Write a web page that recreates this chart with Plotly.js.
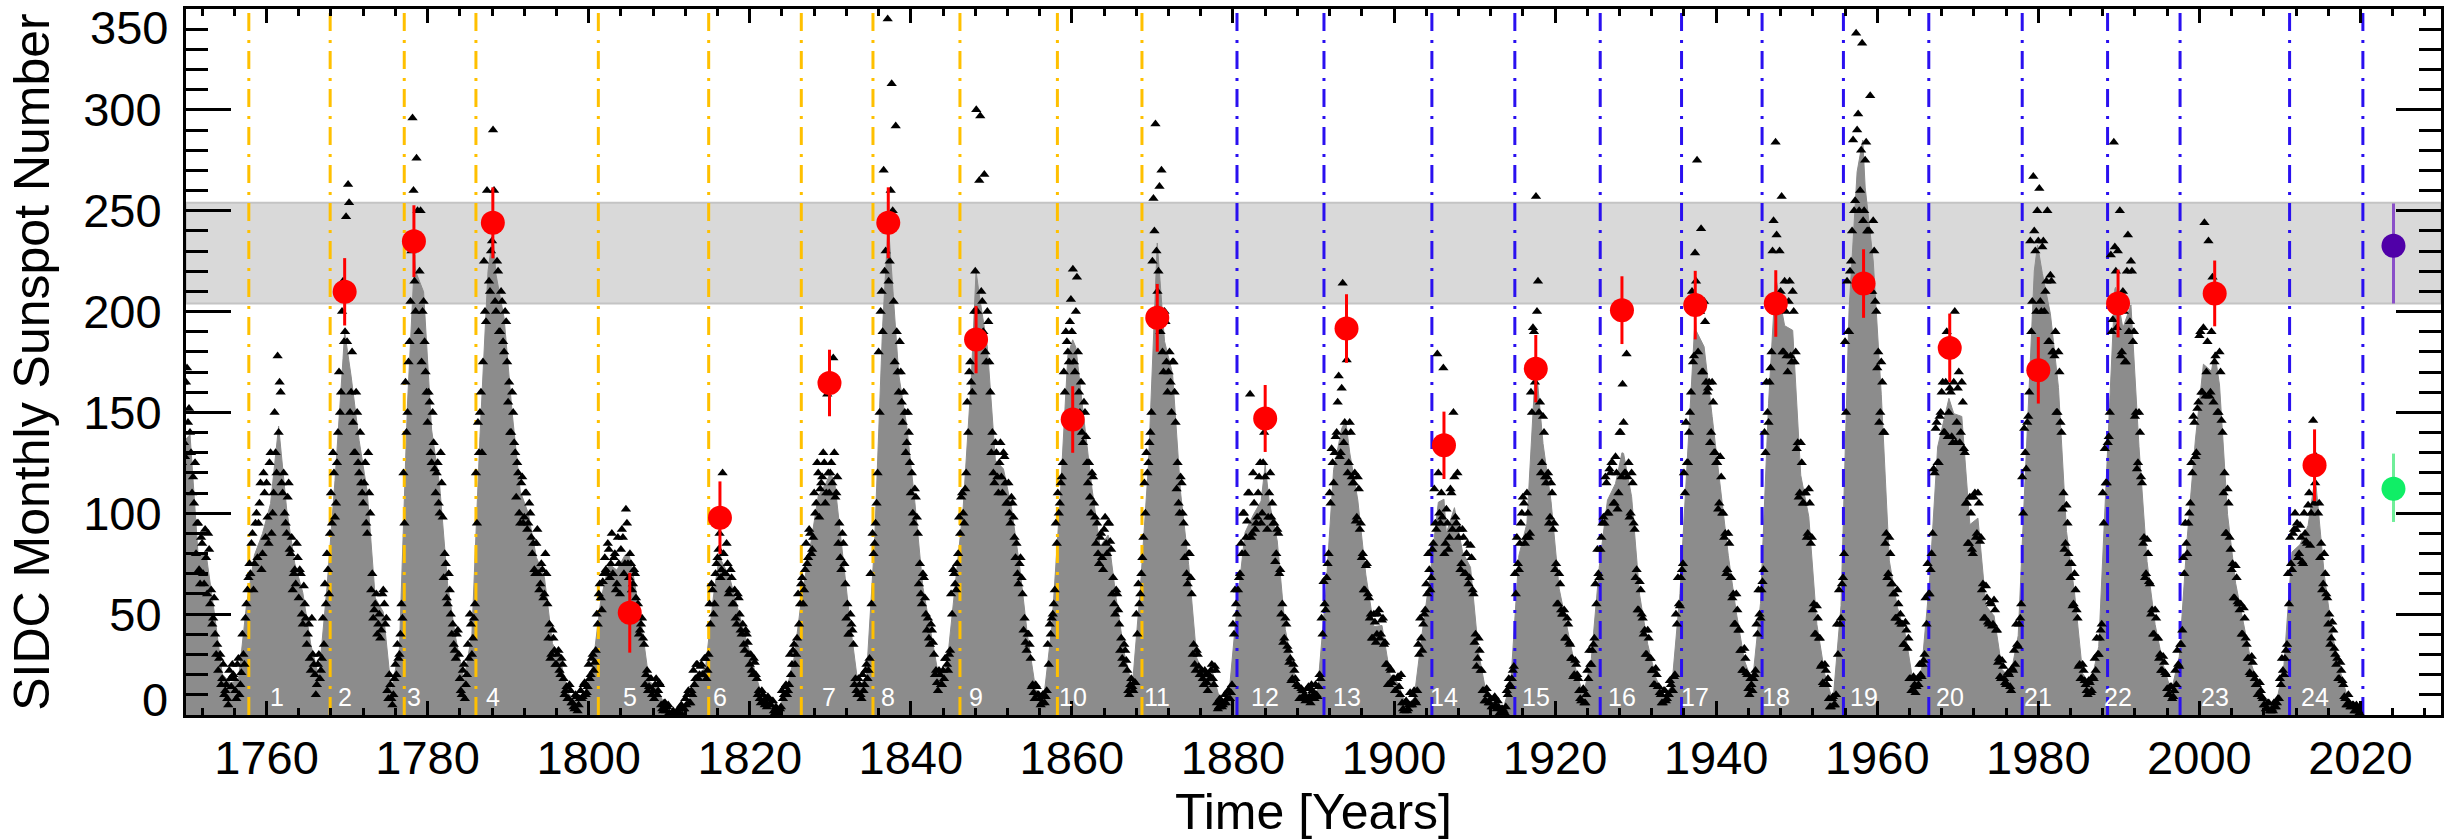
<!DOCTYPE html>
<html><head><meta charset="utf-8">
<script src="https://cdn.plot.ly/plotly-3.0.1.min.js"></script>
<style>html,body{margin:0;padding:0;background:#fff}#chart{width:2453px;height:840px}</style>
</head><body><div id="chart"></div>
<script>
// ---- axis ranges and tick labels ----
const xRange = [1750, 2030];
const yRange = [0, 350];
const yTickVals = [50, 100, 150, 200, 250, 300];
const yEndLabels = ['0', '350'];

// ---- smoothed sunspot number (one value per year, plotted at mid-year) ----
const yearlyStart = 1749;
const yearlySmoothed = [
134.7,139.0,79.5,79.7,51.2,20.3,16.0,17.0,54.0,79.3,
90.0,104.8,143.2,102.0,75.2,60.7,34.8,19.0,63.0,116.3,
176.8,168.0,136.0,110.8,58.0,51.0,11.7,33.0,154.2,220.0,
209.8,141.3,113.5,64.2,38.0,17.0,40.2,138.2,220.0,218.2,
196.8,149.8,111.0,100.0,78.2,68.3,35.5,26.7,10.7,6.8,
11.3,24.2,56.7,75.0,71.8,79.2,70.3,46.8,16.8,13.5,
4.2,0.0,2.3,8.3,20.3,23.2,59.0,76.3,68.3,52.9,
38.5,24.2,9.2,6.3,2.2,11.4,28.2,59.9,83.0,108.5,
115.2,117.4,80.8,44.3,13.4,19.5,85.8,192.7,227.3,168.7,
143.0,105.5,63.3,40.3,18.1,25.1,65.8,102.7,166.3,208.3,
182.5,126.3,122.0,102.7,74.1,39.0,12.7,8.2,43.4,104.4,
178.3,182.2,146.6,112.1,83.5,89.2,57.8,30.7,13.9,62.8,
123.6,232.0,185.3,169.2,110.1,74.5,28.3,18.9,20.7,5.7,
10.0,53.7,90.5,99.0,106.1,105.8,86.3,42.4,21.8,11.2,
10.4,11.8,59.5,121.7,142.0,130.0,106.6,69.4,43.8,44.4,
20.2,15.7,4.6,8.5,40.8,70.1,105.5,90.1,102.8,80.9,
73.2,30.9,9.5,6.0,2.4,16.1,79.0,95.0,173.6,134.6,
105.7,62.7,43.5,23.7,9.7,27.9,74.0,106.5,114.7,129.7,
108.2,59.4,35.1,18.6,9.2,14.6,60.2,132.8,190.6,182.6,
148.0,113.0,79.2,50.8,27.1,16.1,55.3,154.3,214.7,193.0,
190.7,118.9,98.3,45.0,20.1,6.6,54.2,200.7,269.3,261.7,
225.1,159.0,76.4,53.4,39.9,15.0,22.0,66.8,132.9,150.0,
149.4,148.0,94.4,97.6,54.1,49.2,22.5,18.4,39.3,131.0,
220.1,218.9,198.9,162.4,91.0,60.5,20.6,14.8,33.9,123.0,
211.1,191.8,203.3,133.0,76.1,44.9,25.1,11.6,28.9,88.3,
136.3,173.9,170.4,163.6,99.3,65.3,45.8,24.7,12.6,4.2,
4.8,24.9,80.8,84.5,94.0,113.3,69.8,39.8,21.7,7.0,3.6
];
// smoothed cycle maxima
const peakYears  = [1769.7,1778.4,1788.1,1805.0,1816.3,1829.9,1837.2,1848.1,1860.1,1870.6,1884.0,1894.0,1906.2,1917.6,1928.3,1937.4,1947.4,1958.2,1968.9,1979.9,1989.6,2001.9,2014.3];
const peakValues = [190,228,238,80,81,119,244,220,186,234,124,146,107,175,130,198,218,285,157,233,212,180,116];

// ---- monthly sunspot numbers, set A (4 per year, at Y+0.125, +0.375, +0.625, +0.875) ----
const monthlyStart = 1749;
const monthlySSN = [
150,118,165,128, 172,152,130,118, 125,95,72,88, 70,92,60,82, 62,48,40,35,      //1749-1753
28,15,25,12, 8,22,14,20, 12,25,10,21, 30,48,62,75, 85,62,95,78,                //1754-1758
105,72,120,88, 98,125,90,110, 130,178,165,115, 120,95,108,82, 88,70,65,78,     //1759-1763
72,50,64,48, 40,28,48,25, 10,25,18,28, 35,55,72,90, 95,120,105,140,            //1764-1768
150,200,185,247, 263,150,180,130, 160,125,140,110, 115,95,130,100, 70,52,60,45, //1769-1773
38,60,55,48, 8,15,5,18, 20,28,40,48, 95,140,175,205, 296,215,276,190,          //1774-1778
250,200,185,160, 160,130,150,122, 120,105,130,98, 80,58,70,50, 45,32,40,30,     //1779-1783
12,22,8,20, 28,45,38,55, 95,130,160,175, 200,260,215,230, 290,205,225,190,      //1784-1788
210,185,200,175, 165,140,150,130, 125,100,115,95, 110,92,105,88, 85,70,92,62,   //1789-1793
75,58,80,55, 45,30,38,25, 30,22,28,18, 12,8,15,6, 4,10,2,8,                     //1794-1798
8,15,10,14, 18,28,22,32, 45,65,52,70, 72,85,68,90, 78,62,88,60,                 //1799-1803
92,70,102,75, 80,62,72,58, 55,42,48,35, 20,12,18,10, 8,18,12,15,                //1804-1808
3,6,2,5, 0,0,0,0, 1,4,0,3, 5,12,6,10, 15,25,18,24,                              //1809-1813
20,28,18,30, 45,62,55,75, 82,68,120,70, 85,60,72,55, 62,45,58,42,               //1814-1818
45,32,40,30, 30,20,26,18, 12,6,10,5, 4,8,5,7, 1,3,0,4,                          //1819-1823
8,14,10,15, 20,32,25,38, 45,65,55,72, 75,92,80,88, 100,125,98,115,              //1824-1828
130,105,159,110, 125,177,108,118, 95,72,85,65, 55,40,45,35, 18,10,15,8,         //1829-1833
12,22,18,28, 55,80,95,120, 150,210,270,230, 345,225,313,205, 292,170,185,155,   //1834-1838
160,130,150,125, 120,95,108,90, 75,55,68,50, 48,35,42,30, 22,12,20,15,          //1839-1843
18,28,22,32, 50,70,62,80, 90,110,95,120, 140,175,160,200, 300,185,297,205,      //1844-1848
268,175,195,160, 140,115,130,110, 135,110,128,105, 115,95,105,88, 85,65,78,60,  //1849-1853
48,32,40,28, 15,8,14,10, 5,10,6,12, 25,40,50,62, 85,100,115,125,                //1854-1858
160,185,175,206, 221,170,217,160, 165,135,150,125, 125,100,118,98, 95,75,90,72, //1859-1863
98,80,95,82, 68,50,60,45, 38,25,32,22, 10,18,12,16, 40,55,70,88,                //1864-1868
100,120,135,150, 256,293,210,262, 270,170,195,160, 180,150,175,145, 125,100,115,95, //1869-1873
85,65,80,60, 35,22,30,20, 22,15,20,12, 18,25,15,22, 3,8,4,6,                    //1874-1878
6,12,8,15, 40,55,62,70, 80,100,88,110, 159,90,105,95, 110,125,100,140,          //1879-1883
145,98,120,105, 95,80,90,72, 55,38,45,32, 28,18,22,15, 14,8,12,10,              //1884-1888
8,14,6,12, 8,10,14,18, 40,55,68,80, 105,125,130,140, 168,130,214,145,           //1889-1893
176,125,140,115, 120,98,112,95, 80,62,75,58, 50,38,46,40, 52,40,48,36,          //1894-1898
25,15,22,18, 12,18,14,20, 3,6,2,5, 5,10,7,12, 30,38,45,52,                      //1899-1903
60,72,68,85, 95,179,100,110, 172,85,95,88, 110,150,98,120, 92,75,88,70,         //1904-1908
85,68,78,60, 40,28,32,22, 12,7,10,6, 4,8,5,7, 1,3,2,4,                          //1909-1913
10,15,18,24, 60,75,85,100, 105,88,100,90, 150,190,257,215, 155,125,140,115,     //1914-1918
120,98,110,95, 75,55,65,50, 52,38,45,35, 28,20,25,18, 8,12,6,10,                //1919-1923
18,25,32,38, 55,70,82,95, 95,115,100,120, 125,105,120,110, 140,164,120,179,     //1924-1928
125,100,115,92, 72,52,62,48, 42,30,38,28, 22,15,20,14, 10,6,12,8,               //1929-1933
10,15,12,20, 45,55,68,75, 110,125,140,160, 175,229,275,200, 241,170,195,160,    //1934-1938
165,140,155,130, 125,105,118,100, 90,72,85,68, 60,45,52,42, 32,22,28,20,        //1939-1943
10,15,18,22, 40,50,62,72, 130,150,165,180, 245,284,205,230, 257,180,200,170,    //1944-1948
215,175,200,180, 135,110,125,105, 110,90,105,88, 55,40,48,38, 25,15,22,18,      //1949-1953
4,8,5,10, 30,45,65,80, 150,190,220,240, 250,338,298,260, 333,250,284,240,       //1954-1958
307,210,230,200, 180,150,165,140, 90,70,80,65, 60,48,55,50, 45,35,42,38,        //1959-1963
18,12,15,14, 15,20,25,30, 45,60,72,90, 120,145,125,150, 165,140,190,150,        //1964-1968
160,135,200,145, 170,140,155,130, 105,85,100,80, 110,90,105,88, 65,48,58,45,    //1969-1973
55,45,52,42, 28,18,24,16, 15,20,12,22, 25,35,45,55, 100,130,145,160,            //1974-1978
190,267,230,250, 261,200,235,210, 250,185,215,180, 190,150,170,140, 110,85,95,75, //1979-1983
75,55,62,48, 25,18,22,15, 10,16,12,18, 22,30,38,45, 95,115,135,150,             //1984-1988
190,284,220,230, 250,180,200,175, 238,195,220,190, 150,125,140,115, 88,70,80,65, //1989-1993
52,40,48,38, 30,22,26,20, 10,14,8,12, 15,25,35,42, 70,85,95,105,                //1994-1998
120,145,130,155, 190,160,244,170, 235,160,217,175, 207,150,170,140, 120,90,105,82, //1999-2003
75,58,68,55, 55,40,48,35, 28,20,26,18, 15,10,12,8, 5,3,6,2,                     //2004-2008
2,4,6,8, 15,22,28,35, 55,75,90,100, 95,80,88,75, 90,85,110,100,                 //2009-2013
146,115,125,105, 85,65,70,58, 50,38,42,30, 28,18,22,15, 8,5,6,4, 5,2,3,1        //2014-2019
];
// ---- monthly sunspot numbers, set B (4 per year, at Y+0, +0.25, +0.5, +0.75) ----
const monthlySSNb = [
140,160,125,135, 165,145,140,110, 105,80,95,65, 85,65,78,90, 55,45,58,30,       //1749-1753
22,30,18,10, 15,5,18,25, 18,8,28,15, 40,25,55,68, 70,90,75,100,                 //1754-1758
95,115,80,110, 115,85,130,100, 150,120,140,160, 110,100,90,115, 80,62,72,85,    //1759-1763
58,70,45,55, 35,45,22,30, 20,15,30,22, 48,65,80,60, 110,130,98,125,             //1764-1768
170,160,215,190, 185,254,160,145, 130,150,120,115, 105,125,90,110, 62,48,55,40, //1769-1773
50,42,62,45, 12,20,8,10, 25,35,30,55, 120,165,150,185, 230,260,200,250,         //1774-1778
220,175,205,170, 145,155,125,135, 110,125,100,115, 68,75,55,62, 40,35,28,42,    //1779-1783
18,10,25,15, 35,50,30,48, 120,145,150,130, 225,195,245,210, 235,260,200,220,    //1784-1788
190,205,180,195, 155,140,160,135, 108,120,95,118, 98,110,95,100, 80,72,85,70,   //1789-1793
65,72,60,70, 38,28,42,32, 25,32,20,25, 10,14,8,12, 6,3,9,5,                     //1794-1798
12,9,16,11, 25,20,30,26, 50,60,58,66, 78,70,82,75, 70,80,65,75,                 //1799-1803
82,88,75,95, 68,75,65,70, 50,40,45,38, 15,22,14,18, 12,15,10,16,                //1804-1808
5,2,6,4, 1,0,2,0, 2,1,5,3, 8,10,6,12, 22,18,25,20,                              //1809-1813
25,20,28,22, 55,65,50,70, 78,90,72,80, 70,75,62,68, 55,48,60,50,                //1814-1818
40,35,42,36, 25,22,28,20, 10,8,12,7, 6,9,5,7, 2,4,1,3,                          //1819-1823
12,10,15,12, 30,25,35,30, 60,55,68,62, 85,78,90,82, 110,105,120,112,            //1824-1828
118,125,110,120, 120,115,130,110, 85,78,90,75, 48,40,50,42, 15,12,18,10,        //1829-1833
20,15,25,22, 70,90,85,105, 180,200,190,220, 240,215,260,250, 175,190,160,170,   //1834-1838
145,150,135,140, 110,100,112,98, 65,60,70,58, 42,38,45,36, 20,16,22,15,         //1839-1843
22,28,25,30, 60,72,65,75, 98,108,100,112, 155,170,165,185, 220,200,265,210,     //1844-1848
190,180,200,175, 130,120,135,118, 125,118,130,115, 105,100,108,98, 78,70,75,68, //1849-1853
42,36,40,35, 14,11,15,10, 8,6,10,9, 35,45,48,55, 95,110,105,118,                //1854-1858
170,190,180,195, 190,175,200,180, 150,140,155,138, 115,108,120,105, 85,80,88,78, //1859-1863
92,85,95,86, 60,55,62,52, 32,28,35,27, 12,15,14,16, 50,65,60,78,                //1864-1868
115,130,125,140, 225,240,230,220, 190,180,200,175, 170,165,175,160, 112,105,118,100, //1869-1873
78,70,80,68, 30,25,32,24, 20,18,22,16, 20,22,18,24, 6,4,7,5,                    //1874-1878
10,8,12,11, 45,62,50,68, 85,100,80,96, 110,88,120,92, 98,118,95,125,            //1879-1883
118,92,110,98, 95,76,92,70, 50,36,48,34, 26,17,25,18, 15,8,13,9,                //1884-1888
7,13,9,15, 10,15,9,20, 48,66,52,75, 110,132,115,138, 155,128,162,135,           //1889-1893
140,120,145,118, 115,96,118,92, 78,62,74,60, 48,38,50,36, 50,38,47,35,          //1894-1898
25,15,23,16, 18,12,19,10, 6,2,7,3, 11,5,12,6, 35,48,32,50,                      //1899-1903
65,80,62,82, 112,92,120,95, 98,80,102,82, 112,92,118,95, 88,72,92,70,           //1904-1908
80,65,84,62, 36,24,38,22, 12,7,13,6, 8,4,9,3, 4,1,3,1,                          //1909-1913
12,18,14,22, 70,88,72,95, 108,85,110,88, 160,192,165,200, 150,120,148,118,      //1914-1918
118,95,115,92, 72,55,70,52, 50,38,48,36, 28,19,27,20, 12,7,13,6,                //1919-1923
22,32,25,35, 65,82,68,88, 98,118,100,122, 125,105,128,102, 140,118,145,120,     //1924-1928
118,98,120,95, 68,52,66,50, 40,30,42,28, 22,15,23,14, 11,6,12,7,                //1929-1933
10,17,12,19, 50,68,54,72, 120,145,125,150, 210,178,215,180, 200,170,205,165,    //1934-1938
162,135,165,130, 125,102,128,100, 88,70,90,68, 58,45,60,42, 32,22,33,21,        //1939-1943
13,18,12,20, 45,62,48,66, 140,165,145,172, 230,200,238,205, 210,180,215,178,    //1944-1948
205,178,210,175, 132,108,135,105, 110,88,112,85, 52,40,54,38, 24,16,25,15,      //1949-1953
8,4,9,5, 45,62,48,68, 185,215,190,225, 285,255,290,250, 280,245,275,240,        //1954-1958
240,210,245,205, 172,145,175,140, 85,68,88,65, 60,48,62,46, 45,35,46,33,        //1959-1963
18,12,19,11, 18,25,19,27, 58,75,60,80, 122,142,125,148, 160,140,165,138,        //1964-1968
162,138,165,135, 162,135,165,132, 105,85,108,82, 108,88,110,86, 62,48,64,46,    //1969-1973
56,44,57,42, 26,19,27,18, 15,21,14,23, 32,45,34,48, 118,142,122,148,            //1974-1978
235,205,240,200, 235,205,232,200, 215,185,218,180, 178,150,180,145, 102,82,104,80, //1979-1983
68,54,70,52, 24,18,25,17, 12,17,11,19, 28,38,30,42, 110,132,115,138,            //1984-1988
228,196,232,192, 208,178,210,175, 220,190,225,185, 148,122,150,118, 85,68,87,66, //1989-1993
50,40,52,38, 28,22,29,21, 13,10,14,9, 22,32,24,35, 78,95,80,100,                //1994-1998
125,148,128,152, 188,160,192,158, 185,158,190,155, 178,150,180,146, 110,90,112,88, //1999-2003
72,58,74,56, 52,40,53,38, 28,21,29,20, 15,10,16,9, 5,3,6,2,                     //2004-2008
3,6,4,8, 18,28,20,32, 70,88,72,92, 92,78,94,76, 100,86,104,84,                  //2009-2013
125,105,128,100, 78,62,80,60, 45,35,46,33, 25,18,26,17, 9,5,10,4, 5,2,5,2       //2014-2019
];

// ---- cycle start markers ----
const orangeCycleStarts = [1757.8,1767.9,1777.1,1786.0,1801.2,1814.9,1826.4,1835.3,1846.1,1858.2,1868.7];
const blueCycleStarts   = [1880.5,1891.3,1904.7,1915.0,1925.6,1935.7,1945.7,1955.8,1966.4,1978.0,1988.6,1997.6,2011.2,2020.3];

// ---- predicted cycle maxima (cycles 2-24) ----
const predYears  = [1769.7,1778.3,1788.1,1805.1,1816.3,1829.9,1837.2,1848.1,1860.1,1870.6,1884.0,1894.1,1906.2,1917.6,1928.3,1937.4,1947.4,1958.3,1969.0,1980.0,1989.9,2001.9,2014.3];
const predValues = [209.8,234.9,244.0,50.7,97.8,164.6,244.0,186.1,146.5,196.9,147.0,191.6,133.7,171.7,200.7,203.2,204.0,213.9,182.0,170.9,204.0,209.0,123.8];
const predErrors = [16.7,17.8,17.6,19.8,18.0,16.5,17.6,16.7,16.5,16.8,16.6,17.0,16.7,16.7,16.8,17.0,16.5,17.0,17.0,16.5,16.8,16.3,17.8];

// ---- cycle 25 predictions ----
const c25Year = [2024.1];
const c25PurpleValue = [232.6], c25PurpleErrPlus = [21.0], c25PurpleErrMinus = [28.6];
const c25GreenValue = [112.2],  c25GreenErrPlus = [17.4],  c25GreenErrMinus = [16.5];

// ---- cycle number labels ----
const cycleLabels = ['1','2','3','4','5','6','7','8','9','10','11','12','13','14','15','16','17','18','19','20','21','22','23','24'];
const cycleLabelYears = [1761.3].concat(predYears);

// ---- highlighted band ----
const bandRange = [204, 254];

// ================= build traces =================
const FONT = 'Liberation Sans, Arial, Helvetica, sans-serif';
const smooth = yearlySmoothed.map((v,i)=>[yearlyStart+i+0.5, v])
  .concat(peakYears.map((t,i)=>[t, peakValues[i]]))
  .sort((a,b)=>a[0]-b[0]);

const traces = [];
traces.push({
  x: smooth.map(p=>p[0]), y: smooth.map(p=>p[1]),
  type:'scatter', mode:'lines', fill:'tozeroy',
  fillcolor:'#8c8c8c', line:{color:'#8c8c8c', width:1}, hoverinfo:'skip'
});
function vlines(years){
  const x=[], y=[];
  years.forEach(t=>{ x.push(t,t,null); y.push(yRange[0],yRange[1],null); });
  return {x,y};
}
const dashPat = '18px,8px,3px,9px';
const vo = vlines(orangeCycleStarts), vb = vlines(blueCycleStarts);
traces.push({x:vo.x, y:vo.y, type:'scatter', mode:'lines', line:{color:'#ffc000', width:3, dash:dashPat}, hoverinfo:'skip'});
traces.push({x:vb.x, y:vb.y, type:'scatter', mode:'lines', line:{color:'#2a10f0', width:3, dash:dashPat}, hoverinfo:'skip'});

const mX = monthlySSN.map((v,i)=>monthlyStart + (i+0.5)/4)
  .concat(monthlySSNb.map((v,i)=>monthlyStart + i/4));
const mY = monthlySSN.concat(monthlySSNb);
traces.push({
  x: mX, y: mY, type:'scatter', mode:'markers',
  marker:{symbol:'triangle-up', size:9, color:'#000000', line:{width:0}}, hoverinfo:'skip'
});
traces.push({
  x: predYears, y: predValues, type:'scatter', mode:'markers',
  marker:{size:24, color:'#ff0000', line:{width:0}},
  error_y:{type:'data', array:predErrors, visible:true, color:'#ff0000', thickness:3, width:0}
});
traces.push({
  x: c25Year, y: c25PurpleValue, type:'scatter', mode:'markers',
  marker:{size:24, color:'#5000a8', line:{width:0}},
  error_y:{type:'data', symmetric:false, array:c25PurpleErrPlus, arrayminus:c25PurpleErrMinus, color:'#8a50c8', thickness:3, width:0}
});
traces.push({
  x: c25Year, y: c25GreenValue, type:'scatter', mode:'markers',
  marker:{size:24, color:'#10ee66', line:{width:0}},
  error_y:{type:'data', symmetric:false, array:c25GreenErrPlus, arrayminus:c25GreenErrMinus, color:'#70ee99', thickness:3, width:0}
});

const annotations = cycleLabels.map((s,i)=>({
  x: cycleLabelYears[i], xref:'x', y:0, yref:'paper', yanchor:'middle', yshift:18,
  text:s, showarrow:false, font:{size:25, color:'#ffffff', family:FONT}
}));
// end labels of the y axis (drawn inside the axis span, as in the original)
annotations.push({x:0, xref:'paper', xanchor:'right', xshift:-16, y:0, yref:'paper', yanchor:'middle', yshift:16,
  text:yEndLabels[0], showarrow:false, font:{size:47, color:'#000', family:FONT}});
annotations.push({x:0, xref:'paper', xanchor:'right', xshift:-16, y:1, yref:'paper', yanchor:'middle', yshift:-18,
  text:yEndLabels[1], showarrow:false, font:{size:47, color:'#000', family:FONT}});

const axisCommon = {
  showline:true, linewidth:3, linecolor:'#000', mirror:'allticks',
  ticks:'inside', tickcolor:'#000', tickwidth:3,
  showgrid:false, zeroline:false, tickfont:{size:47, family:FONT, color:'#000'}
};
const layout = {
  width:2453, height:840,
  margin:{l:186, r:12, t:9, b:125},
  paper_bgcolor:'#ffffff', plot_bgcolor:'#ffffff',
  showlegend:false,
  font:{family:FONT, color:'#000'},
  xaxis: Object.assign({}, axisCommon, {
    range:xRange, tick0:1760, dtick:20, ticklen:14,
    minor:{ticks:'inside', ticklen:7, tickwidth:3, tickcolor:'#000', dtick:4, tick0:1760, showgrid:false},
    ticklabelstandoff:0,
    title:{text:'Time [Years]', font:{size:50, family:FONT, color:'#000'}, standoff:14}
  }),
  yaxis: Object.assign({}, axisCommon, {
    range:yRange, tickmode:'array', tickvals:yTickVals, ticklen:45,
    minor:{ticks:'inside', ticklen:22, tickwidth:3, tickcolor:'#000', dtick:10, tick0:0, showgrid:false},
    ticklabelstandoff:12,
    title:{text:'SIDC Monthly Sunspot Number', font:{size:50, family:FONT, color:'#000'}, standoff:18}
  }),
  shapes:[{
    type:'rect', xref:'paper', x0:0, x1:1, yref:'y', y0:bandRange[0], y1:bandRange[1],
    fillcolor:'#d9d9d9', line:{color:'#c4c4c4', width:2}, layer:'below'
  }],
  annotations: annotations
};
Plotly.newPlot('chart', traces, layout, {displayModeBar:false, staticPlot:true});
</script>
</body></html>
